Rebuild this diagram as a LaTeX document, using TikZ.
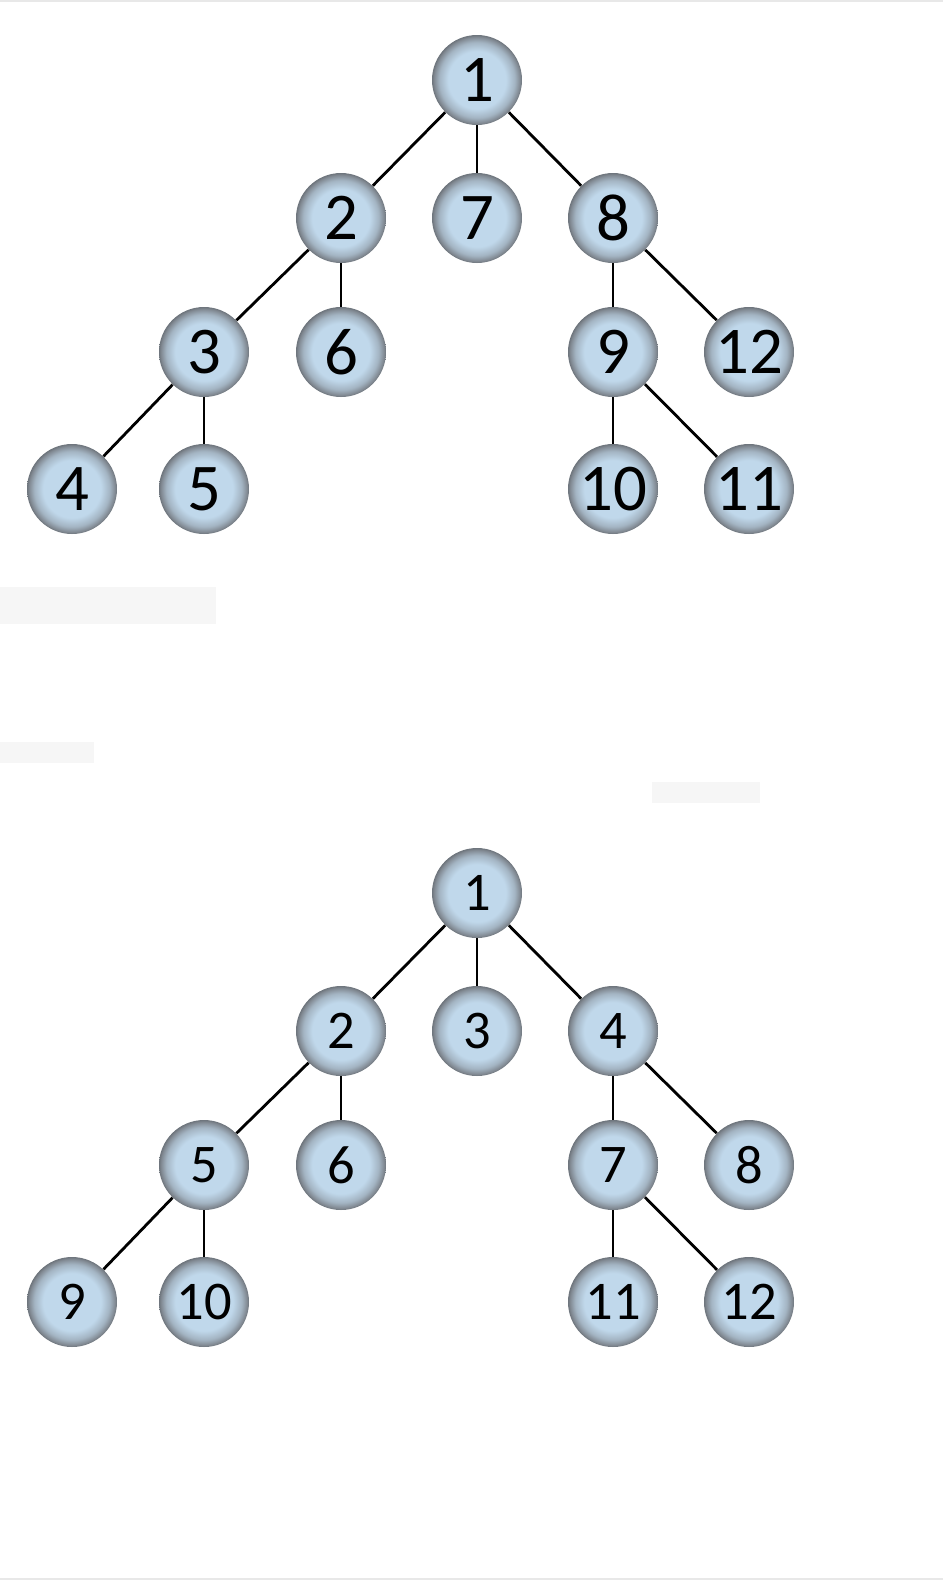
\documentclass[tikz,border=0pt]{standalone}
\usepackage{fontspec}
\setmainfont{Carlito}
\usepackage{xcolor}
\usetikzlibrary{positioning}
\definecolor{nodeblue}{RGB}{192,216,235}
\definecolor{rimgray}{RGB}{128,136,145}
\definecolor{boxgray}{RGB}{246,246,246}
\definecolor{edgegray}{RGB}{232,232,232}
\pgfdeclareradialshading{noderim}{\pgfpointorigin}{color(0bp)=(nodeblue); color(16bp)=(nodeblue); color(21bp)=(nodeblue!55!rimgray); color(24bp)=(rimgray); color(25bp)=(rimgray!85!black); color(50bp)=(rimgray!85!black)}

\begin{document}
\begin{tikzpicture}[x=0.02cm,y=-0.02cm,
  treenode/.style={circle,shading=noderim,minimum size=1.8cm,inner sep=0pt},
  bignum/.style={treenode,font=\fontsize{38}{38}\selectfont},
  smallnum/.style={treenode,font=\fontsize{31}{31}\selectfont},
  link/.style={line width=1.6pt}]
  \fill[white] (0,0) rectangle (943,1580);
  \useasboundingbox (0,0) rectangle (943,1580);
  \draw[edgegray,line width=0.6pt] (0,1) -- (943,1);
  \draw[edgegray,line width=0.6pt] (0,1579) -- (943,1579);
  \fill[boxgray] (0,587) rectangle (216,624);
  \fill[boxgray] (0,742) rectangle (94,763);
  \fill[boxgray] (652,782) rectangle (760,803);

  \node[bignum] (t1) at (477,80) {1};
  \node[bignum] (t2) at (341,218) {2};
  \node[bignum] (t7) at (477,218) {7};
  \node[bignum] (t8) at (613,218) {8};
  \node[bignum] (t3) at (204,352) {3};
  \node[bignum] (t6) at (341,352) {6};
  \node[bignum] (t9) at (613,352) {9};
  \node[bignum] (t12) at (749,352) {12};
  \node[bignum] (t4) at (72,489) {4};
  \node[bignum] (t5) at (204,489) {5};
  \node[bignum] (t10) at (613,489) {10};
  \node[bignum] (t11) at (749,489) {11};
  \draw[link] (t1) -- (t2);
  \draw[link] (t1) -- (t7);
  \draw[link] (t1) -- (t8);
  \draw[link] (t2) -- (t3);
  \draw[link] (t2) -- (t6);
  \draw[link] (t3) -- (t4);
  \draw[link] (t3) -- (t5);
  \draw[link] (t8) -- (t9);
  \draw[link] (t8) -- (t12);
  \draw[link] (t9) -- (t10);
  \draw[link] (t9) -- (t11);

  \node[smallnum] (b1) at (477,893) {1};
  \node[smallnum] (b2) at (341,1031) {2};
  \node[smallnum] (b3) at (477,1031) {3};
  \node[smallnum] (b4) at (613,1031) {4};
  \node[smallnum] (b5) at (204,1165) {5};
  \node[smallnum] (b6) at (341,1165) {6};
  \node[smallnum] (b7) at (613,1165) {7};
  \node[smallnum] (b8) at (749,1165) {8};
  \node[smallnum] (b9) at (72,1302) {9};
  \node[smallnum] (b10) at (204,1302) {10};
  \node[smallnum] (b11) at (613,1302) {11};
  \node[smallnum] (b12) at (749,1302) {12};
  \draw[link] (b1) -- (b2);
  \draw[link] (b1) -- (b3);
  \draw[link] (b1) -- (b4);
  \draw[link] (b2) -- (b5);
  \draw[link] (b2) -- (b6);
  \draw[link] (b5) -- (b9);
  \draw[link] (b5) -- (b10);
  \draw[link] (b4) -- (b7);
  \draw[link] (b4) -- (b8);
  \draw[link] (b7) -- (b11);
  \draw[link] (b7) -- (b12);
\end{tikzpicture}
\end{document}
